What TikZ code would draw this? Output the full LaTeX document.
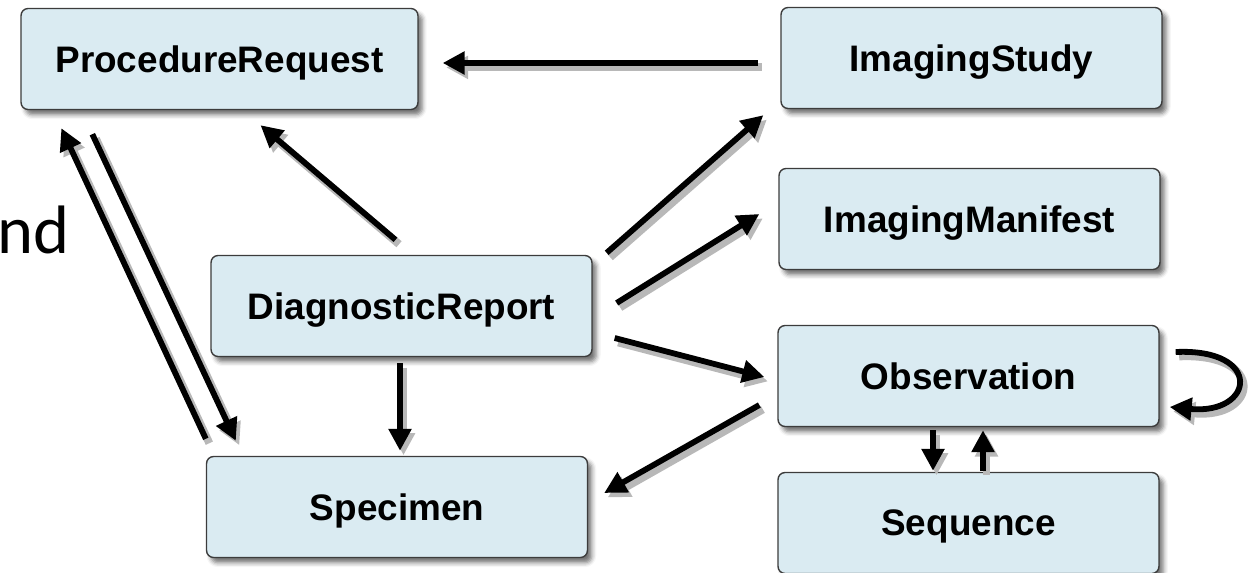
\documentclass[tikz,border=0pt]{standalone}
\usepackage{fontspec}
\setmainfont{Liberation Sans}
\newfontfamily\slidefont{Carlito}
\usetikzlibrary{arrows.meta,shadows.blur}

\definecolor{boxfill}{HTML}{DAEBF2}
\definecolor{boxline}{HTML}{3C3C3C}

\begin{document}
\begin{tikzpicture}[x=0.02cm,y=-0.02cm]
	\tikzstyle{mybox} = [draw=boxline, line width=0.8pt, fill=boxfill, rounded corners=4pt,
		minimum width=7.62cm, minimum height=2.02cm, inner sep=0pt, text depth=0pt,
		font=\fontsize{21}{24}\selectfont\bfseries,
		blur shadow={shadow xshift=2.5pt, shadow yshift=-3pt, shadow blur radius=2.5pt, shadow opacity=55}]
	\tikzstyle{myedgestyle} = [-{Triangle[length=12.5pt,width=12.5pt]}, line width=3.3pt,
		preaction={draw=black!28, line width=4.5pt, transform canvas={xshift=2pt,yshift=-2.5pt}}]
	
	\clip (0,0) rectangle (1255,572);
	\useasboundingbox (0,0) rectangle (1255,572);
	
	\node [font=\slidefont\fontsize{39}{46}\selectfont, anchor=base west, inner sep=0pt] (ND) at (-3,253) {nd};
	
	\node [mybox, minimum width=7.94cm] (PR) at (219.5,59) {ProcedureRequest};
	\node [mybox] (IS) at (971.5,58) {ImagingStudy};
	\node [mybox] (IM) at (969.5,219) {ImagingManifest};
	\node [mybox] (DR) at (401.5,306) {DiagnosticReport};
	\node [mybox] (OB) at (968.5,376) {Observation};
	\node [mybox] (SQ) at (968.5,523) {Sequence};
	\node [mybox] (SP) at (397,507) {Specimen};
	
	\draw [myedgestyle] ([shift={(-22,5)}]IS.west) -- ([shift={(24,4)}]PR.east);
	\draw [myedgestyle] ([shift={(-6,-15)}]DR.north) -- ([shift={(41,15)}]PR.south);
	\draw [myedgestyle] ([shift={(14,-2)}]DR.north east) -- ([shift={(-17,6)}]IS.south west);
	\draw [myedgestyle] ([shift={(24,-3)}]DR.east) -- ([shift={(-19,-5)}]IM.west);
	\draw [myedgestyle] ([shift={(22,32)}]DR.east) -- ([shift={(-13,1)}]OB.west);
	\draw [myedgestyle] ([shift={(-1.5,6)}]DR.south) -- ([shift={(3,-5)}]SP.north);
	\draw [myedgestyle] ([shift={(-18,29)}]OB.west) -- ([shift={(16,-14)}]SP.east);
	\draw [myedgestyle] ([shift={(72,24)}]PR.south west) -- ([shift={(30,-15)}]SP.north west);
	\draw [myedgestyle] ([shift={(0,-17)}]SP.north west) -- ([shift={(41,18)}]PR.south west);
	\draw [myedgestyle] ([shift={(16,-24)}]OB.east) .. controls +(88,-4) and +(85,8) .. ([shift={(10,31)}]OB.east);
	\draw [myedgestyle] ([shift={(-35.5,3)}]OB.south) -- ([shift={(-35.5,-1)}]SQ.north);
	\draw [myedgestyle] ([shift={(14.5,-1)}]SQ.north) -- ([shift={(14.5,3)}]OB.south);
	
\end{tikzpicture}
\end{document}
